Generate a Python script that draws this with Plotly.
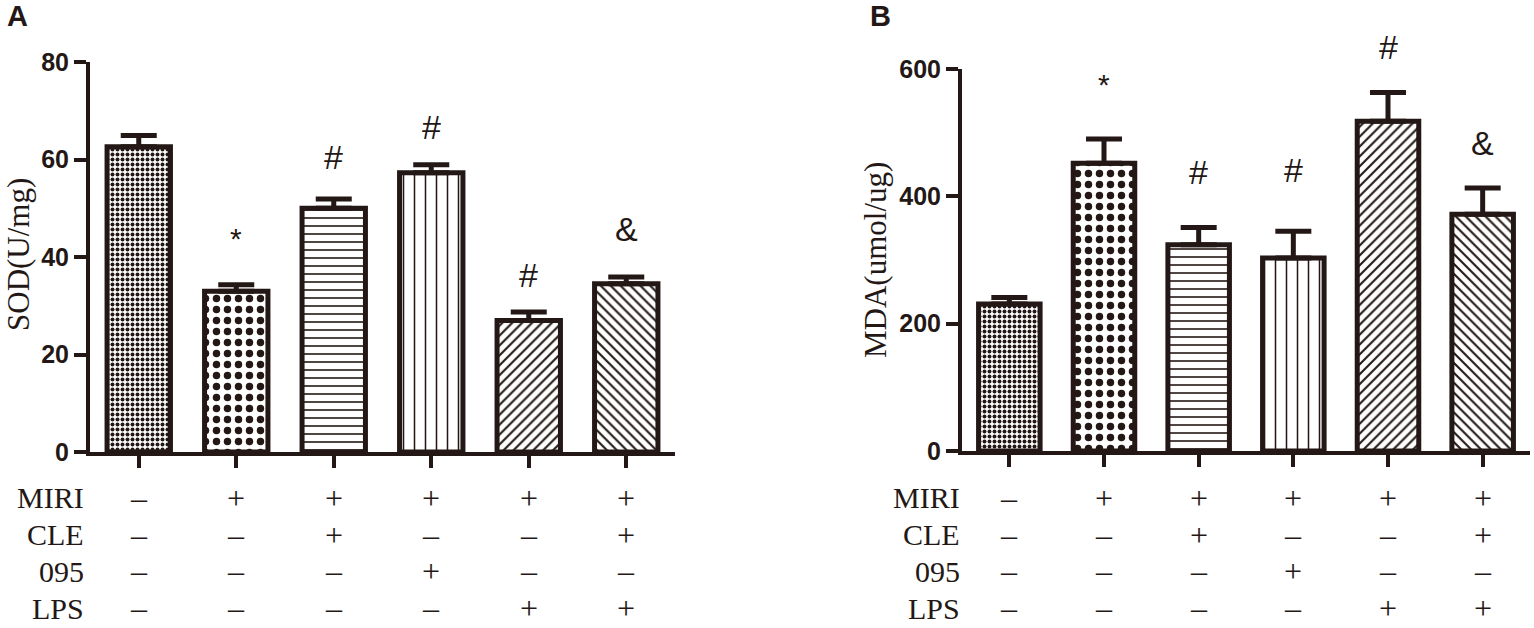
import plotly.graph_objects as go

# ---- data ----
groups = [0, 1, 2, 3, 4, 5]

sod_mean = [62.6, 33.0, 50.0, 57.3, 27.0, 34.5]
sod_err = [2.3, 1.3, 1.9, 1.6, 1.7, 1.4]
sod_marks = ["", "*", "#", "#", "#", "&"]
sod_mark_y = [None, 43.7, 60.5, 66.7, 36.3, 45.7]

mda_mean = [231, 452, 324, 303, 518, 372]
mda_err = [10, 38, 27, 42, 45, 41]
mda_marks = ["", "*", "#", "#", "#", "&"]
mda_mark_y = [None, 576, 438, 441, 634, 484]

row_names = ["MIRI", "CLE", "095", "LPS"]
miri = [0, 1, 1, 1, 1, 1]
cle = [0, 0, 1, 0, 0, 1]
inh095 = [0, 0, 0, 1, 0, 0]
lps = [0, 0, 0, 0, 1, 1]

INK = "#231815"
SERIF = "Liberation Serif, Times New Roman, serif"
SANS = "Liberation Sans, Arial, sans-serif"
W, H = 1534, 628

pat_shape = [".", ".", "-", "|", "/", "\\"]
pat_size = [5, 11, 8, 11, 7, 7]
pat_solid = [0.5, 0.36, 0.2, 0.14, 0.3, 0.3]

# plot areas (pixels, measured on the reference)
ydom_a = [(H - 452) / H, (H - 62) / H]
ydom_b = [(H - 451) / H, (H - 69) / H]


def bar_trace(means, errs, xa, ya):
    return go.Bar(
        x=groups, y=means, xaxis=xa, yaxis=ya, width=0.65,
        marker=dict(color="white", line=dict(color=INK, width=5),
                    pattern=dict(shape=pat_shape, size=pat_size, solidity=pat_solid,
                                 fgcolor=INK, bgcolor="white", fillmode="replace")),
        error_y=dict(type="data", symmetric=False, array=errs, arrayminus=[0] * len(errs),
                     thickness=5, width=18, color=INK),
        showlegend=False, hoverinfo="skip",
    )


fig = go.Figure()
fig.add_trace(bar_trace(sod_mean, sod_err, "x", "y"))
fig.add_trace(bar_trace(mda_mean, mda_err, "x2", "y2"))

xcommon = dict(range=[-0.5, 5.5], tickvals=groups, showticklabels=False, showline=True,
               linewidth=4, linecolor=INK, ticks="outside", ticklen=12, tickwidth=4,
               tickcolor=INK, showgrid=False, zeroline=False, automargin=False)
ycommon = dict(showline=True, linewidth=4, linecolor=INK, ticks="outside", ticklen=12,
               tickwidth=4, tickcolor=INK, showgrid=False, zeroline=False, automargin=False,
               tickfont=dict(family=SANS, size=25, color=INK, weight="bold"))

fig.update_layout(
    width=W, height=H, margin=dict(l=0, r=0, t=0, b=0, pad=0, autoexpand=False),
    paper_bgcolor="white", plot_bgcolor="white",
    xaxis=dict(domain=[90 / W, 675 / W], anchor="y", **xcommon),
    yaxis=dict(domain=ydom_a, anchor="x", range=[0, 80],
               tickvals=[0, 20, 40, 60, 80], **ycommon),
    xaxis2=dict(domain=[962 / W, 1530 / W], anchor="y2", **xcommon),
    yaxis2=dict(domain=ydom_b, anchor="x2", range=[0, 600],
                tickvals=[0, 200, 400, 600], **ycommon),
)

ann = []
# significance marks above bars (converted to paper so none get hidden)
for xa, dom, ymax, marks, ys in [("x", ydom_a, 80, sod_marks, sod_mark_y),
                                  ("x2", ydom_b, 600, mda_marks, mda_mark_y)]:
    for g, m, yv in zip(groups, marks, ys):
        if m:
            py = dom[0] + yv / ymax * (dom[1] - dom[0])
            ann.append(dict(x=g, y=py, xref=xa, yref="paper", text=m, showarrow=False,
                            xanchor="center", yanchor="middle",
                            font=dict(family=SANS, size=30 if m == "*" else 34, color=INK)))

# treatment table under the axes
rows = [miri, cle, inh095, lps]
for xa, label_x in [("x", 86), ("x2", 962)]:
    for i, (name, flags) in enumerate(zip(row_names, rows)):
        ry = (H - (498 + 36.7 * i)) / H
        ann.append(dict(x=label_x / W, y=ry, xref="paper", yref="paper", text=name,
                        showarrow=False, xanchor="right", yanchor="middle",
                        font=dict(family=SERIF, size=30, color=INK)))
        for g, f in zip(groups, flags):
            ann.append(dict(x=g, y=ry, xref=xa, yref="paper", text="+" if f else "–",
                            showarrow=False, xanchor="center", yanchor="middle",
                            font=dict(family=SERIF, size=32, color=INK)))

# axis titles and panel letters
ann.append(dict(x=19 / W, y=(H - 255) / H, xref="paper", yref="paper", text="SOD(U/mg)",
                textangle=-90, showarrow=False, xanchor="center", yanchor="middle",
                font=dict(family=SERIF, size=31, color=INK)))
ann.append(dict(x=875 / W, y=(H - 260) / H, xref="paper", yref="paper", text="MDA(umol/ug)",
                textangle=-90, showarrow=False, xanchor="center", yanchor="middle",
                font=dict(family=SERIF, size=31, color=INK)))
for letter, px in [("A", 17), ("B", 880)]:
    ann.append(dict(x=px / W, y=(H - 16) / H, xref="paper", yref="paper", text=letter,
                    showarrow=False, xanchor="center", yanchor="middle",
                    font=dict(family=SANS, size=29, color=INK, weight="bold")))

fig.update_layout(annotations=ann)
fig.write_html("out.html", config={"displayModeBar": False},
               post_script="document.body.style.margin='0';document.body.style.overflow='hidden';")
